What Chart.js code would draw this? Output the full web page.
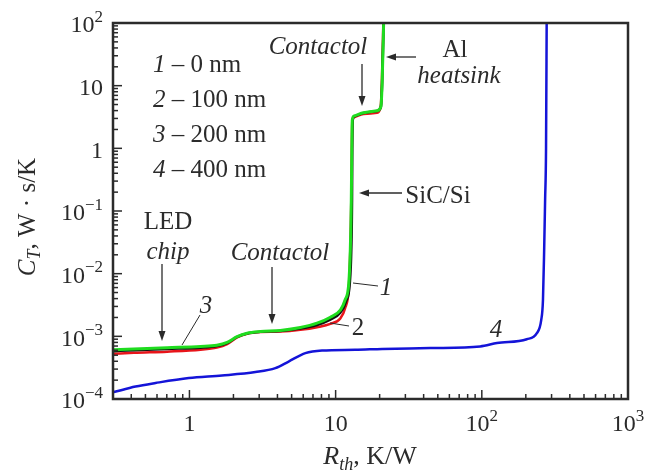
<!DOCTYPE html>
<html>
<head>
<meta charset="utf-8">
<script src="https://cdn.jsdelivr.net/npm/chart.js@4.4.1/dist/chart.umd.min.js"></script>
<style>
  body { margin: 0; background: #fff; }
  canvas { display: block; }
</style>
</head>
<body>
<canvas id="chart" width="654" height="471"></canvas>
<script>
// Curve 1 - 0 nm
const rth1 = [0.304, 0.416, 0.703, 1.19, 1.54, 1.81, 2.12, 2.48, 3.06, 4.19, 5.74, 7.46, 9.2, 10.8, 11.8, 12.5, 12.8, 12.95, 13.0, 13.1, 13.5, 15.5, 19.2, 20.4, 20.8, 21.3, 21.4];
const ct1 = [5.8e-4, 6.0e-4, 6.3e-4, 6.6e-4, 7.0e-4, 7.8e-4, 9.8e-4, 1.11e-3, 1.18e-3, 1.22e-3, 1.33e-3, 1.52e-3, 1.85e-3, 2.4e-3, 3.6e-3, 7.0e-3, 0.024, 0.15, 0.94, 2.84, 3.25, 3.65, 3.95, 4.6, 10.9, 99, 150];

// Curve 2 - 100 nm
const rth2 = [0.304, 0.416, 0.703, 1.19, 1.54, 1.81, 2.12, 2.48, 3.06, 4.19, 5.74, 7.46, 9.2, 10.8, 11.6, 12.3, 12.6, 12.8, 12.9, 13.0, 13.4, 15.5, 19.2, 20.3, 20.7, 21.2, 21.3];
const ct2 = [5.26e-4, 5.46e-4, 5.7e-4, 6.1e-4, 6.6e-4, 7.5e-4, 9.6e-4, 1.1e-3, 1.17e-3, 1.19e-3, 1.27e-3, 1.40e-3, 1.58e-3, 1.95e-3, 2.8e-3, 5.9e-3, 0.024, 0.15, 0.94, 2.7, 3.13, 3.54, 3.71, 4.5, 10.9, 99, 150];

// Curve 3 - 200 nm
const rth3 = [0.304, 0.416, 0.703, 1.19, 1.54, 1.81, 2.12, 2.48, 3.06, 4.19, 5.74, 7.46, 9.2, 10.8, 11.6, 12.3, 12.6, 12.8, 12.9, 13.0, 13.4, 15.5, 19.2, 20.4, 20.8, 21.3, 21.4];
const ct3 = [6.1e-4, 6.3e-4, 6.6e-4, 6.9e-4, 7.2e-4, 8.0e-4, 9.9e-4, 1.12e-3, 1.19e-3, 1.24e-3, 1.38e-3, 1.62e-3, 2.02e-3, 2.65e-3, 3.8e-3, 7.0e-3, 0.024, 0.15, 0.94, 2.84, 3.29, 3.71, 3.99, 4.6, 10.9, 99, 150];

// Curve 4 - 400 nm
const rth4 = [0.304, 0.428, 0.586, 0.99, 1.67, 2.83, 3.87, 4.77, 6.21, 8.07, 13.6, 20.8, 44.4, 97.5, 127, 203, 238, 255, 262, 267, 271, 275, 278];
const ct4 = [1.29e-4, 1.58e-4, 1.80e-4, 2.16e-4, 2.37e-4, 2.69e-4, 3.11e-4, 3.96e-4, 5.4e-4, 5.94e-4, 6.1e-4, 6.3e-4, 6.5e-4, 6.9e-4, 7.8e-4, 9.0e-4, 1.12e-3, 1.83e-3, 3.8e-3, 0.024, 0.15, 1, 150];

const xTicks = [1, 10, 100, 1000];
const yTicks = [100, 10, 1, 0.1, 0.01, 0.001, 0.0001];

const FONT = '"Liberation Serif", "DejaVu Serif", serif';
const INK = '#2b2b2b';

function toPoints(xs, ys) {
  return xs.map((x, i) => ({ x, y: ys[i] }));
}

function series(xs, ys, color, width, order) {
  return {
    data: toPoints(xs, ys),
    borderColor: color,
    borderWidth: width,
    pointRadius: 0,
    cubicInterpolationMode: 'monotone',
    fill: false,
    order
  };
}

// draw a line of mixed text: parts = [[text, style]], style: '', 'i', 'sub', 'isub', 'sup'
function richText(ctx, parts, x, y, align, size) {
  const fontOf = st => {
    const small = st === 'sub' || st === 'isub' || st === 'sup';
    const italic = st === 'i' || st === 'isub';
    return (italic ? 'italic ' : '') + Math.round(small ? size * 0.7 : size) + 'px ' + FONT;
  };
  let w = 0;
  parts.forEach(p => { ctx.font = fontOf(p[1]); w += ctx.measureText(p[0]).width; });
  let cx = align === 'center' ? x - w / 2 : align === 'right' ? x - w : x;
  ctx.textAlign = 'left';
  ctx.textBaseline = 'middle';
  parts.forEach(p => {
    ctx.font = fontOf(p[1]);
    let dy = 0;
    if (p[1] === 'sub' || p[1] === 'isub') dy = size * 0.3;
    if (p[1] === 'sup') dy = -size * 0.36;
    ctx.fillText(p[0], cx, y + dy);
    cx += ctx.measureText(p[0]).width;
  });
}

function tickParts(v) {
  const e = Math.round(Math.log10(v));
  if (e === 0) return [['1', '']];
  if (e === 1) return [['10', '']];
  return [['10', ''], [String(e).replace('-', '\u2212'), 'sup']];
}

function arrow(ctx, x1, y1, x2, y2) {
  const a = Math.atan2(y2 - y1, x2 - x1);
  const len = 10, half = 3.5;
  ctx.beginPath();
  ctx.moveTo(x1, y1);
  ctx.lineTo(x2 - Math.cos(a) * len * 0.8, y2 - Math.sin(a) * len * 0.8);
  ctx.stroke();
  ctx.beginPath();
  ctx.moveTo(x2, y2);
  ctx.lineTo(x2 - Math.cos(a) * len - Math.sin(a) * half, y2 - Math.sin(a) * len + Math.cos(a) * half);
  ctx.lineTo(x2 - Math.cos(a) * len + Math.sin(a) * half, y2 - Math.sin(a) * len - Math.cos(a) * half);
  ctx.closePath();
  ctx.fill();
}

function line(ctx, x1, y1, x2, y2) {
  ctx.beginPath();
  ctx.moveTo(x1, y1);
  ctx.lineTo(x2, y2);
  ctx.stroke();
}

const decor = {
  id: 'decor',
  afterDatasetsDraw(chart) {
    const ctx = chart.ctx;
    const xs = chart.scales.x, ys = chart.scales.y;
    const a = chart.chartArea;
    ctx.save();
    ctx.strokeStyle = INK;
    ctx.fillStyle = INK;

    // inward ticks
    ctx.lineWidth = 1.5;
    for (let d = -1; d <= 3; d++) {
      for (let k = 1; k <= 9; k++) {
        const v = k * Math.pow(10, d);
        if (v < xs.min || v > xs.max) continue;
        const px = xs.getPixelForValue(v);
        line(ctx, px, a.bottom, px, a.bottom - (k === 1 ? 9 : 5));
      }
    }
    for (let d = -4; d <= 2; d++) {
      for (let k = 1; k <= 9; k++) {
        const v = k * Math.pow(10, d);
        if (v < ys.min || v > ys.max * 1.0001) continue;
        const py = ys.getPixelForValue(v);
        line(ctx, a.left, py, a.left + (k === 1 ? 9 : 5), py);
      }
    }

    // frame
    ctx.lineWidth = 2.5;
    ctx.strokeRect(a.left, a.top, a.right - a.left, a.bottom - a.top);

    // tick labels
    xTicks.forEach(v => richText(ctx, tickParts(v), xs.getPixelForValue(v), 425, 'center', 24));
    yTicks.forEach(v => richText(ctx, tickParts(v), 103, ys.getPixelForValue(v) + 3, 'right', 24));

    // axis titles
    richText(ctx, [['R', 'i'], ['th', 'isub'], [', K/W', '']], 370, 457, 'center', 26);
    ctx.save();
    ctx.translate(28, 217);
    ctx.rotate(-Math.PI / 2);
    richText(ctx, [['C', 'i'], ['T', 'isub'], [', W \u00b7 s/K', '']], 0, 0, 'center', 25);
    ctx.restore();

    // legend of thicknesses
    const legend = [['1', '0 nm'], ['2', '100 nm'], ['3', '200 nm'], ['4', '400 nm']];
    legend.forEach((r, i) => {
      richText(ctx, [[r[0], 'i'], [' \u2013 ' + r[1], '']], 153, 65 + i * 35, 'left', 25);
    });

    // annotations
    richText(ctx, [['Contactol', 'i']], 318, 47, 'center', 25);
    richText(ctx, [['Al', '']], 455, 50, 'center', 25);
    richText(ctx, [['heatsink', 'i']], 459, 76, 'center', 25);
    richText(ctx, [['SiC/Si', '']], 438, 196, 'center', 25);
    richText(ctx, [['LED', '']], 168, 222, 'center', 25);
    richText(ctx, [['chip', 'i']], 168, 252, 'center', 25);
    richText(ctx, [['Contactol', 'i']], 280, 253, 'center', 25);
    richText(ctx, [['3', 'i']], 206, 306, 'center', 25);
    richText(ctx, [['1', 'i']], 386, 288, 'center', 25);
    richText(ctx, [['2', '']], 358, 328, 'center', 25);
    richText(ctx, [['4', 'i']], 496, 330, 'center', 25);

    ctx.lineWidth = 1.3;
    arrow(ctx, 362, 64, 362, 106);
    arrow(ctx, 416, 57, 386, 57);
    arrow(ctx, 402, 193, 359, 193);
    arrow(ctx, 162, 264, 162, 341);
    arrow(ctx, 272, 267, 272, 324);
    ctx.lineWidth = 1;
    line(ctx, 200, 315, 182, 345);
    line(ctx, 378, 286, 353, 283);
    line(ctx, 349, 326, 330, 323);

    ctx.restore();
  }
};

new Chart(document.getElementById('chart'), {
  type: 'line',
  data: {
    datasets: [
      series(rth3, ct3, '#1fdc1f', 3, 0),
      series(rth1, ct1, '#111111', 2.5, 1),
      series(rth2, ct2, '#e8141a', 2.5, 2),
      series(rth4, ct4, '#1414d8', 2.5, 3)
    ]
  },
  options: {
    responsive: false,
    animation: false,
    layout: { padding: { left: 113, top: 23, right: 26, bottom: 72 } },
    plugins: { legend: { display: false }, tooltip: { enabled: false } },
    scales: {
      x: { type: 'logarithmic', min: 0.3, max: 1000, display: false },
      y: { type: 'logarithmic', min: 1e-4, max: 100, display: false }
    }
  },
  plugins: [decor]
});
</script>
</body>
</html>
